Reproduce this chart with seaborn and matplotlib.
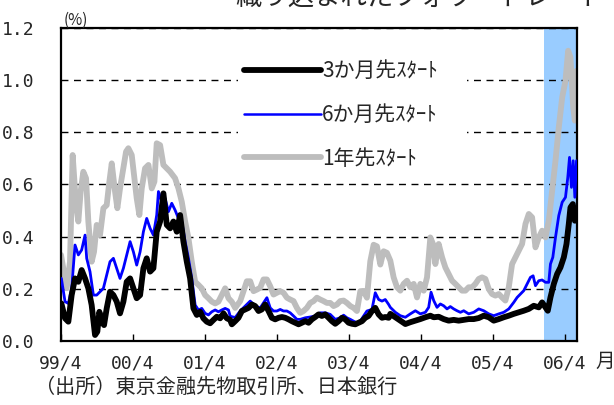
import matplotlib
matplotlib.use("Agg")
import matplotlib.pyplot as plt
import seaborn as sns
from matplotlib.lines import Line2D
from matplotlib.patches import Rectangle

# ---- data (time in decimal years, rates in %) ----
t_3m = [1999.255, 1999.306, 1999.352, 1999.398, 1999.445, 1999.491, 1999.537, 1999.584, 1999.630, 1999.676,
        1999.723, 1999.755, 1999.783, 1999.816, 1999.848, 1999.885, 1999.931, 1999.978, 2000.024, 2000.070,
        2000.117, 2000.163, 2000.210, 2000.256, 2000.302, 2000.349, 2000.395, 2000.441, 2000.488, 2000.534,
        2000.580, 2000.627, 2000.673, 2000.720, 2000.766, 2000.812, 2000.859, 2000.905, 2000.951, 2000.998,
        2001.044, 2001.090, 2001.137, 2001.183, 2001.229, 2001.276, 2001.322, 2001.369, 2001.415, 2001.461,
        2001.508, 2001.554, 2001.600,
        2001.624, 2001.670, 2001.716, 2001.763, 2001.809, 2001.856, 2001.902, 2001.948, 2001.995, 2002.041,
        2002.087, 2002.134, 2002.180, 2002.226, 2002.273, 2002.319, 2002.365, 2002.412, 2002.458, 2002.505,
        2002.551, 2002.597, 2002.644, 2002.690, 2002.736, 2002.783, 2002.829, 2002.875, 2002.922, 2002.968,
        2003.015, 2003.061, 2003.107, 2003.154, 2003.200, 2003.246, 2003.293, 2003.339, 2003.385, 2003.432,
        2003.478, 2003.524, 2003.571, 2003.617, 2003.664, 2003.710, 2003.756, 2003.803,
        2003.826, 2003.896, 2003.965, 2004.035, 2004.104, 2004.174, 2004.243, 2004.313, 2004.382, 2004.429,
        2004.498, 2004.568, 2004.637, 2004.707, 2004.776, 2004.846, 2004.915, 2004.985, 2005.055, 2005.124,
        2005.194, 2005.263, 2005.333, 2005.402, 2005.472, 2005.541, 2005.611, 2005.680, 2005.750, 2005.819,
        2005.889, 2005.935, 2005.982, 2006.014, 2006.051, 2006.098, 2006.144, 2006.190, 2006.237, 2006.274,
        2006.306, 2006.329, 2006.362, 2006.390, 2006.413]
r_3m = [0.144, 0.087, 0.074, 0.176, 0.240, 0.227, 0.272, 0.240, 0.202, 0.138,
        0.023, 0.036, 0.112, 0.074, 0.061, 0.125, 0.189, 0.176, 0.151, 0.106,
        0.151, 0.227, 0.240, 0.202, 0.164, 0.176, 0.279, 0.317, 0.266, 0.279,
        0.419, 0.458, 0.566, 0.445, 0.432, 0.458, 0.419, 0.483, 0.381, 0.304,
        0.240, 0.125, 0.100, 0.112, 0.087, 0.074, 0.068, 0.081, 0.093, 0.087,
        0.106, 0.087, 0.081,
        0.064, 0.076, 0.089, 0.115, 0.121, 0.127, 0.140, 0.134, 0.115, 0.121,
        0.140, 0.115, 0.089, 0.083, 0.089, 0.092, 0.089, 0.083, 0.076, 0.070,
        0.064, 0.070, 0.076, 0.070, 0.083, 0.092, 0.102, 0.096, 0.102, 0.089,
        0.076, 0.066, 0.076, 0.089, 0.083, 0.070, 0.066, 0.064, 0.070, 0.076,
        0.089, 0.096, 0.115, 0.127, 0.102, 0.089, 0.092, 0.089,
        0.104, 0.091, 0.078, 0.065, 0.072, 0.078, 0.084, 0.091, 0.097, 0.091,
        0.093, 0.084, 0.078, 0.081, 0.078, 0.081, 0.084, 0.084, 0.088, 0.097,
        0.091, 0.078, 0.084, 0.091, 0.097, 0.104, 0.110, 0.116, 0.123, 0.135,
        0.129, 0.148, 0.129, 0.116, 0.167, 0.219, 0.257, 0.282, 0.321, 0.372,
        0.449, 0.512, 0.525, 0.461, 0.500]

t_6m = [1999.255, 1999.306, 1999.352, 1999.398, 1999.445, 1999.491, 1999.537, 1999.584, 1999.607, 1999.653,
        1999.700, 1999.746, 1999.792, 1999.839, 1999.885, 1999.931, 1999.978, 2000.024, 2000.070, 2000.117,
        2000.163, 2000.210, 2000.256, 2000.302, 2000.349, 2000.395, 2000.441, 2000.488, 2000.534, 2000.580,
        2000.604, 2000.650, 2000.696, 2000.743, 2000.789, 2000.835, 2000.882, 2000.928, 2000.975, 2001.021,
        2001.067, 2001.114, 2001.160, 2001.206, 2001.253, 2001.299, 2001.345, 2001.392, 2001.438, 2001.484,
        2001.531, 2001.577,
        2001.601, 2001.670, 2001.740, 2001.809, 2001.879, 2001.948, 2002.018, 2002.064, 2002.111, 2002.157,
        2002.203, 2002.250, 2002.296, 2002.342, 2002.389, 2002.435, 2002.481, 2002.528, 2002.574, 2002.644,
        2002.713, 2002.783, 2002.852, 2002.922, 2002.991, 2003.061, 2003.130, 2003.177, 2003.223, 2003.270,
        2003.316, 2003.362, 2003.409, 2003.455, 2003.501, 2003.571, 2003.617, 2003.664, 2003.710, 2003.756,
        2003.803,
        2003.826, 2003.896, 2003.965, 2004.035, 2004.104, 2004.174, 2004.243, 2004.313, 2004.359, 2004.392,
        2004.429, 2004.475, 2004.521, 2004.568, 2004.614, 2004.660, 2004.707, 2004.753, 2004.800, 2004.846,
        2004.915, 2004.985, 2005.055, 2005.124, 2005.194, 2005.263, 2005.333, 2005.402, 2005.472, 2005.541,
        2005.588, 2005.634, 2005.680, 2005.727, 2005.773, 2005.810, 2005.843, 2005.889, 2005.935, 2005.982,
        2006.028, 2006.051, 2006.084, 2006.121, 2006.167, 2006.214, 2006.260, 2006.292, 2006.316, 2006.343,
        2006.367, 2006.390, 2006.413]
r_6m = [0.240, 0.151, 0.144, 0.202, 0.368, 0.330, 0.349, 0.406, 0.317, 0.266,
        0.176, 0.176, 0.189, 0.202, 0.253, 0.304, 0.317, 0.279, 0.240, 0.279,
        0.330, 0.381, 0.342, 0.291, 0.342, 0.419, 0.470, 0.432, 0.406, 0.483,
        0.573, 0.534, 0.547, 0.496, 0.528, 0.502, 0.470, 0.458, 0.381, 0.317,
        0.240, 0.138, 0.119, 0.125, 0.106, 0.100, 0.112, 0.119, 0.112, 0.119,
        0.125, 0.119,
        0.095, 0.090, 0.115, 0.134, 0.153, 0.134, 0.127, 0.146, 0.166, 0.127,
        0.115, 0.115, 0.121, 0.115, 0.115, 0.108, 0.096, 0.083, 0.083, 0.089,
        0.092, 0.096, 0.108, 0.108, 0.102, 0.083, 0.089, 0.099, 0.089, 0.083,
        0.076, 0.070, 0.076, 0.096, 0.115, 0.121, 0.185, 0.159, 0.153, 0.159,
        0.140,
        0.129, 0.110, 0.097, 0.091, 0.104, 0.116, 0.104, 0.110, 0.129, 0.187,
        0.155, 0.129, 0.142, 0.135, 0.123, 0.132, 0.123, 0.116, 0.110, 0.116,
        0.104, 0.110, 0.123, 0.116, 0.104, 0.097, 0.104, 0.110, 0.123, 0.148,
        0.167, 0.180, 0.193, 0.219, 0.244, 0.250, 0.212, 0.231, 0.234, 0.225,
        0.225, 0.295, 0.321, 0.397, 0.481, 0.532, 0.551, 0.627, 0.704, 0.589,
        0.691, 0.551, 0.691]

t_1y = [1999.250, 1999.282, 1999.329, 1999.375, 1999.412, 1999.459, 1999.491, 1999.523, 1999.560, 1999.598,
        1999.630, 1999.676, 1999.709, 1999.746, 1999.792, 1999.839, 1999.885, 1999.922, 1999.955, 2000.001,
        2000.033, 2000.070, 2000.108, 2000.154, 2000.186, 2000.233, 2000.265, 2000.302, 2000.339, 2000.372,
        2000.418, 2000.465, 2000.511, 2000.548, 2000.580, 2000.627, 2000.673, 2000.720, 2000.766, 2000.835,
        2000.882, 2000.928, 2000.975, 2001.021, 2001.067, 2001.114, 2001.160, 2001.206, 2001.253, 2001.299,
        2001.345, 2001.392, 2001.438, 2001.484, 2001.531, 2001.577,
        2001.624, 2001.670, 2001.740, 2001.786, 2001.832, 2001.879, 2001.925, 2001.971, 2002.018, 2002.064,
        2002.111, 2002.157, 2002.203, 2002.250, 2002.296, 2002.342, 2002.389, 2002.435, 2002.481, 2002.528,
        2002.574, 2002.620, 2002.667, 2002.713, 2002.760, 2002.806, 2002.852, 2002.899, 2002.945, 2002.991,
        2003.038, 2003.084, 2003.130, 2003.177, 2003.223, 2003.270, 2003.316, 2003.362, 2003.409, 2003.455,
        2003.501, 2003.548, 2003.594, 2003.640, 2003.687, 2003.733, 2003.779,
        2003.826, 2003.872, 2003.919, 2003.965, 2004.011, 2004.058, 2004.104, 2004.151, 2004.197, 2004.243,
        2004.290, 2004.336, 2004.382, 2004.419, 2004.452, 2004.498, 2004.545, 2004.591, 2004.637, 2004.684,
        2004.730, 2004.776, 2004.823, 2004.869, 2004.915, 2004.962, 2005.008, 2005.055, 2005.101, 2005.147,
        2005.194, 2005.240, 2005.286, 2005.333, 2005.379, 2005.425, 2005.472, 2005.518, 2005.565, 2005.611,
        2005.657, 2005.704, 2005.750, 2005.796, 2005.843, 2005.889, 2005.935, 2005.982, 2006.028, 2006.074,
        2006.121, 2006.167, 2006.214, 2006.260, 2006.297, 2006.329, 2006.367, 2006.390, 2006.413]
r_1y = [0.330, 0.279, 0.202, 0.304, 0.713, 0.521, 0.458, 0.573, 0.649, 0.624,
        0.458, 0.304, 0.342, 0.445, 0.406, 0.509, 0.521, 0.611, 0.681, 0.573,
        0.509, 0.585, 0.649, 0.726, 0.739, 0.713, 0.636, 0.547, 0.483, 0.585,
        0.662, 0.675, 0.585, 0.611, 0.758, 0.751, 0.675, 0.662, 0.649, 0.624,
        0.585, 0.534, 0.458, 0.394, 0.304, 0.227, 0.215, 0.202, 0.176, 0.164,
        0.151, 0.144, 0.151, 0.176, 0.202, 0.164,
        0.150, 0.127, 0.153, 0.191, 0.229, 0.229, 0.191, 0.197, 0.204, 0.236,
        0.236, 0.210, 0.178, 0.185, 0.191, 0.185, 0.166, 0.159, 0.153, 0.127,
        0.108, 0.115, 0.127, 0.146, 0.153, 0.166, 0.159, 0.153, 0.146, 0.146,
        0.134, 0.140, 0.153, 0.155, 0.146, 0.134, 0.127, 0.115, 0.191, 0.191,
        0.166, 0.306, 0.369, 0.363, 0.293, 0.344, 0.338,
        0.308, 0.244, 0.206, 0.193, 0.219, 0.231, 0.206, 0.219, 0.167, 0.219,
        0.193, 0.244, 0.397, 0.372, 0.295, 0.372, 0.321, 0.282, 0.257, 0.231,
        0.219, 0.206, 0.193, 0.193, 0.206, 0.206, 0.219, 0.238, 0.244, 0.238,
        0.199, 0.180, 0.174, 0.180, 0.167, 0.155, 0.206, 0.295, 0.321, 0.346,
        0.372, 0.449, 0.487, 0.474, 0.359, 0.397, 0.423, 0.397, 0.461, 0.576,
        0.691, 0.819, 0.934, 0.998, 1.113, 1.088, 0.896, 0.845, 1.036]

series_labels = ["3か月先ｽﾀｰﾄ", "6か月先ｽﾀｰﾄ", "1年先ｽﾀｰﾄ"]
xtick_pos = [1999.25, 2000.25, 2001.25, 2002.25, 2003.25, 2004.25, 2005.25, 2006.25]
xtick_labels = ["99/4", "00/4", "01/4", "02/4", "03/4", "04/4", "05/4", "06/4"]
ytick_vals = [0.0, 0.2, 0.4, 0.6, 0.8, 1.0, 1.2]
x_range = (1999.25, 2006.42)
shade_start = 2005.965
title_text = "織り込まれたフォワードレート"
source_text = "（出所）東京金融先物取引所、日本銀行"

# ---- style ----
sns.set_theme(style="white")
plt.rcParams["font.family"] = ["Noto Sans CJK JP", "DejaVu Sans"]
num_family = ["DejaVu Sans Mono"]

fig = plt.figure(figsize=(6.14, 4.05), dpi=100)
ax = fig.add_axes([61 / 614, 64 / 405, 516 / 614, 313 / 405])

ax.axvspan(shade_start, x_range[1], color="#99ccff", lw=0, zorder=0.2)

sns.lineplot(x=t_1y, y=r_1y, ax=ax, color="#bdbdbd", lw=4.2, estimator=None, sort=False, zorder=2)
sns.lineplot(x=t_6m, y=r_6m, ax=ax, color="#0000ff", lw=2.0, estimator=None, sort=False, zorder=3)
sns.lineplot(x=t_3m, y=r_3m, ax=ax, color="#000000", lw=4.2, estimator=None, sort=False, zorder=4)

ax.set_xlim(*x_range)
ax.set_ylim(0, 1.2)
ax.set_xticks(xtick_pos)
ax.set_xticklabels(xtick_labels, family=num_family, fontsize=13)
ax.set_yticks(ytick_vals)
ax.set_yticklabels([f"{v:.1f}" for v in ytick_vals], family=num_family, fontsize=13)
ax.tick_params(axis="x", direction="in", length=5, width=1, color="black", pad=10, bottom=True)
ax.tick_params(axis="y", length=0, pad=19)
ax.set_xlabel("")
ax.set_ylabel("")

ax.set_axisbelow(True)
ax.yaxis.grid(True, color="black", lw=1.0, linestyle=(0, (5, 4)))
ax.xaxis.grid(False)
for s in ax.spines.values():
    s.set_color("black")
    s.set_linewidth(1.6)

# legend area masks the grid behind it
ax.add_patch(Rectangle(((238 - 61) / 516, (341 - 178) / 313), (467 - 238) / 516, (178 - 52) / 313,
                       transform=ax.transAxes, facecolor="white", edgecolor="none", zorder=0.8))
handles = [Line2D([], [], color="#000000", lw=4.2),
           Line2D([], [], color="#0000ff", lw=1.8),
           Line2D([], [], color="#bdbdbd", lw=4.2)]
leg = ax.legend(handles, series_labels, loc="upper left",
                bbox_to_anchor=((244 - 61) / 516, (341 - 60) / 313),
                frameon=False, fontsize=15, handlelength=3.7, handletextpad=0.05,
                labelspacing=1.05, borderpad=0.0, borderaxespad=0.0)

fig.text(235 / 614, 1 - 6 / 405, title_text, fontsize=19, ha="left", va="baseline")
fig.text(64 / 614, 1 - 29 / 405, "(%)", fontsize=11, ha="left", va="bottom")
fig.text(595 / 614, 1 - 361 / 405, "月", fontsize=14, ha="left", va="center")
fig.text(35 / 614, 1 - 387 / 405, source_text, fontsize=14.5, ha="left", va="center")

fig.savefig("out.png", dpi=100)
